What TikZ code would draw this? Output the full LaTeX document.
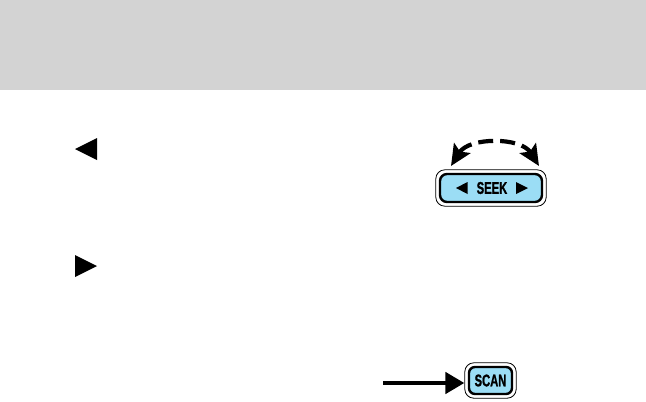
\documentclass[tikz,border=0pt]{standalone}
\usepackage{fontspec}
\setmainfont{Liberation Sans}[BoldFeatures={FakeBold=1.3}]
\usepackage{tikz}
\usetikzlibrary{
  positioning,
  arrows.meta,
  fit
}
\definecolor{headgray}{RGB}{211,211,211}
\definecolor{btnblue}{RGB}{155,221,245}

\begin{document}
\begin{tikzpicture}[
  x=1pt, y=-1pt,
  btn/.style={draw, line width=2.4pt, rounded corners=7pt, fill=btnblue,
              inner sep=0pt, font=\fontsize{17}{17}\selectfont\bfseries},
  frame/.style={draw, line width=0.8pt, rounded corners=9pt, inner sep=3pt},
  arrow/.style={-{Triangle[length=19pt, width=21pt]}, line width=4.5pt},
  swing/.style={{Stealth[length=21pt, width=19pt, inset=4pt]}-{Stealth[length=21pt, width=19pt, inset=4pt]},
                line width=4.2pt, dash pattern=on 15pt off 7pt}
]
  \useasboundingbox (0,0) rectangle (646,402);
  \fill[headgray] (0,0) rectangle (646,90);
  % markers on the left
  \fill (75,149) -- (97,138) -- (97,160) -- cycle;
  \fill (75,255) -- (97,266) -- (75,277) -- cycle;
  % seek button
  \node[btn, minimum width=102pt, minimum height=28pt] (seek) at (491,188)
    {\hspace*{2pt}\scalebox{0.66}[1]{SEEK}};
  \node[frame, fit=(seek)] (seekframe) {};
  \fill[shift={(seek.center)}] (-35,0) -- (-23.5,-6) -- (-23.5,6) -- cycle;
  \fill[shift={(seek.center)}] (37,0) -- (25,-6) -- (25,6) -- cycle;
  \coordinate (swingL) at (451,166);
  \coordinate (swingR) at (539,166);
  \draw[swing] (swingL) to[bend left=58] (swingR);
  % scan button
  \node[btn, minimum width=43pt, minimum height=27pt, rounded corners=6pt] (scan)
    at (490.5,380.5) {\scalebox{0.66}[1]{SCAN}};
  \node[frame, fit=(scan)] (scanframe) {};
  \coordinate (scanfrom) at (383,383);
  \draw[arrow] (scanfrom) -- (scanfrom -| scanframe.west);
\end{tikzpicture}
\end{document}
